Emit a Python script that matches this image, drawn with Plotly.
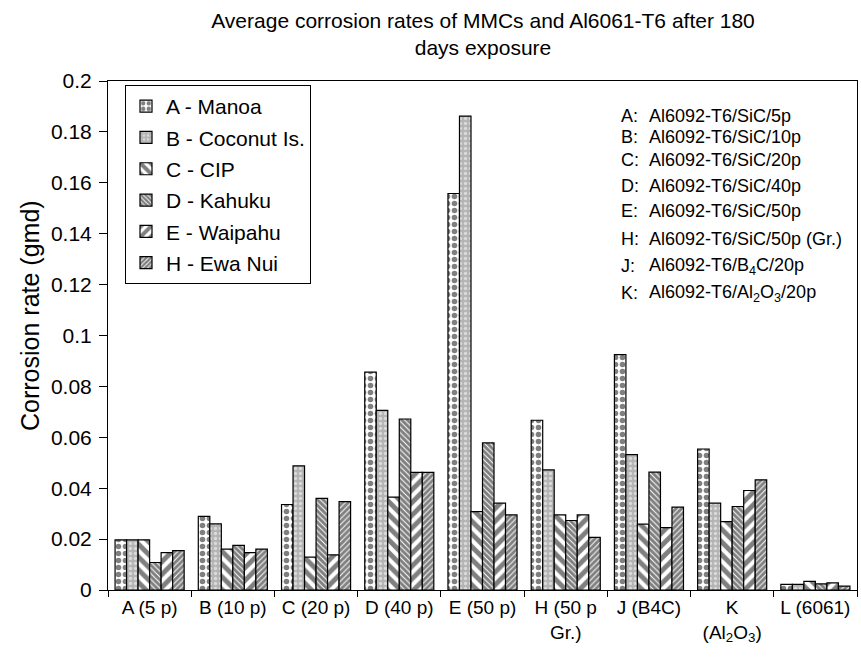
import plotly.graph_objects as go

categories = ["A (5 p)", "B (10 p)", "C (20 p)", "D (40 p)", "E (50 p)",
              "H (50 p<br>Gr.)", "J (B4C)", "K<br>(Al<sub>2</sub>O<sub>3</sub>)", "L (6061)"]

site_names = ["A - Manoa", "B - Coconut Is.", "C - CIP", "D - Kahuku", "E - Waipahu", "H - Ewa Nui"]

manoa   = [0.0197, 0.0289, 0.0336, 0.0856, 0.1558, 0.0667, 0.0925, 0.0554, 0.0022]
coconut = [0.0197, 0.0260, 0.0488, 0.0706, 0.1862, 0.0472, 0.0532, 0.0341, 0.0022]
cip     = [0.0197, 0.0161, 0.0129, 0.0365, 0.0308, 0.0295, 0.0259, 0.0269, 0.0034]
kahuku  = [0.0108, 0.0175, 0.0360, 0.0672, 0.0578, 0.0273, 0.0463, 0.0328, 0.0024]
waipahu = [0.0147, 0.0147, 0.0138, 0.0462, 0.0341, 0.0295, 0.0245, 0.0391, 0.0028]
ewanui  = [0.0155, 0.0161, 0.0347, 0.0462, 0.0295, 0.0207, 0.0326, 0.0433, 0.0015]

series = [manoa, coconut, cip, kahuku, waipahu, ewanui]

ytick_vals = [0, 0.02, 0.04, 0.06, 0.08, 0.1, 0.12, 0.14, 0.16, 0.18, 0.2]
ytick_text = ["0", "0.02", "0.04", "0.06", "0.08", "0.1", "0.12", "0.14", "0.16", "0.18", "0.2"]

key_letters = ["A:", "B:", "C:", "D:", "E:", "H:", "J:", "K:"]
key_materials = ["Al6092-T6/SiC/5p", "Al6092-T6/SiC/10p", "Al6092-T6/SiC/20p", "Al6092-T6/SiC/40p",
                 "Al6092-T6/SiC/50p", "Al6092-T6/SiC/50p (Gr.)", "Al6092-T6/B<sub>4</sub>C/20p",
                 "Al6092-T6/Al<sub>2</sub>O<sub>3</sub>/20p"]
key_ypix = [116, 137, 160, 186, 211, 239, 266, 293]

patterns = [
    dict(shape=".", bgcolor="white", fgcolor="black", size=7, solidity=0.5),
    dict(shape=".", bgcolor="#b4b4b4", fgcolor="white", size=5, solidity=0.35),
    dict(shape="\\", bgcolor="white", fgcolor="black", size=9, solidity=0.55),
    dict(shape="\\", bgcolor="white", fgcolor="black", size=4, solidity=0.75),
    dict(shape="/", bgcolor="white", fgcolor="black", size=9, solidity=0.55),
    dict(shape="/", bgcolor="white", fgcolor="black", size=4, solidity=0.75),
]

FONT = "Liberation Sans, Arial, sans-serif"

fig = go.Figure()
for name, vals, pat in zip(site_names, series, patterns):
    fig.add_trace(go.Bar(
        x=categories, y=vals, name=name, legendgroup=name,
        marker=dict(color=pat["bgcolor"], pattern=pat, line=dict(color="black", width=1.2)),
    ))

W, H = 861, 664
L_, R_, T_, B_ = 108, 4, 81, 74
pw, ph = W - L_ - R_, H - T_ - B_

def px2x(p):
    return (p - L_) / pw

def py2y(p):
    return (H - B_ - p) / ph

annotations = []
for letter, mat, yp in zip(key_letters, key_materials, key_ypix):
    annotations.append(dict(x=px2x(619), y=py2y(yp), xref="paper", yref="paper", text=letter,
                            showarrow=False, xanchor="left", yanchor="middle",
                            font=dict(size=18, family=FONT, color="black")))
    annotations.append(dict(x=px2x(647), y=py2y(yp), xref="paper", yref="paper", text=mat,
                            showarrow=False, xanchor="left", yanchor="middle",
                            font=dict(size=18, family=FONT, color="black")))
annotations.append(dict(x=px2x(30), y=py2y(316), xref="paper", yref="paper",
                        text="Corrosion rate (gmd)", textangle=-90, showarrow=False,
                        xanchor="center", yanchor="middle",
                        font=dict(size=25, family=FONT, color="black")))

fig.update_layout(
    width=W, height=H,
    margin=dict(l=L_, r=R_, t=T_, b=B_),
    paper_bgcolor="white", plot_bgcolor="white",
    barmode="group", bargap=0.17, bargroupgap=0,
    font=dict(family=FONT, color="black"),
    title=dict(text="Average corrosion rates of MMCs and Al6061-T6 after 180<br>days exposure",
               x=483 / W, xanchor="center", xref="container",
               y=1 - 28 / H, yanchor="top", yref="container",
               font=dict(size=21, family=FONT, color="black")),
    legend=dict(x=px2x(125), y=py2y(85), xanchor="left", yanchor="top",
                bordercolor="black", borderwidth=1, bgcolor="white",
                font=dict(size=21, family=FONT, color="black"),
                tracegroupgap=1, itemwidth=30),
    annotations=annotations,
    showlegend=True,
)
fig.update_xaxes(showline=True, linecolor="black", linewidth=1, mirror=True,
                 ticks="outside", tickson="boundaries", ticklen=6, tickcolor="black",
                 tickfont=dict(size=19, family=FONT, color="black"), showgrid=False,
                 tickangle=0)
fig.update_yaxes(range=[0, 0.2], tickvals=ytick_vals, ticktext=ytick_text,
                 showline=True, linecolor="black", linewidth=1, mirror=True,
                 ticks="outside", ticklen=8, tickcolor="black", ticklabelstandoff=3,
                 tickfont=dict(size=21, family=FONT, color="black"), showgrid=False,
                 zeroline=False)

fig.write_html("out.html")
